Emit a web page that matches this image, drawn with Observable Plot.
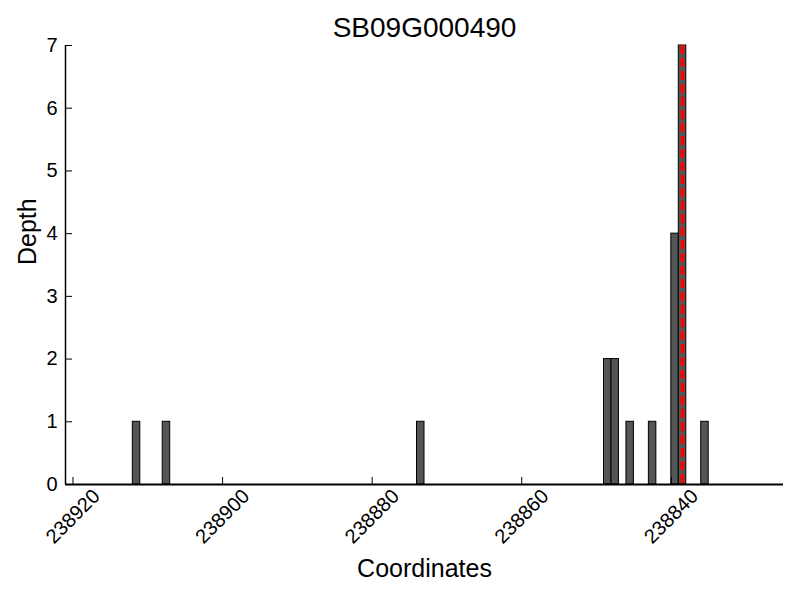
<!DOCTYPE html>
<html>
<head>
<meta charset="utf-8">
<script src="https://cdn.jsdelivr.net/npm/d3@7"></script>
<script src="https://cdn.jsdelivr.net/npm/@observablehq/plot@0.6"></script>
<style>
  html, body { margin: 0; padding: 0; background: #fff; }
  #chart svg { display: block; }
</style>
</head>
<body>
<div id="chart"></div>
<script>
const title = "SB09G000490";
const xLabel = "Coordinates";
const yLabel = "Depth";

// bar start coordinates (each bar spans one base) and read-off depths
const positions = [238911, 238907, 238873, 238848, 238847, 238845, 238842, 238839, 238838, 238835];
const depths    = [1, 1, 1, 2, 2, 1, 1, 4, 7, 1];

// marker (red dashed line) position
const markerPos = [238838.5];

const xDomain = [238921, 238825];
const yDomain = [0, 7];
const xTicks = [238920, 238900, 238880, 238860, 238840];
const yTicks = [0, 1, 2, 3, 4, 5, 6, 7];

const bars = positions.map((p, i) => ({pos: p, depth: depths[i]}));

const font = "'Liberation Sans', Arial, Helvetica, sans-serif";

const chart = Plot.plot({
  width: 800,
  height: 600,
  marginLeft: 65,
  marginRight: 17,
  marginTop: 45,
  marginBottom: 116,
  style: {fontFamily: font, fontSize: "20px", color: "black", background: "white"},
  x: {domain: xDomain, label: null},
  y: {domain: yDomain, label: null},
  marks: [
    Plot.rectY(bars, {x1: d => d.pos, x2: d => d.pos + 1, y: "depth", fill: "#555555", stroke: "black", strokeWidth: 1}),
    Plot.ruleX(markerPos, {stroke: "#ff0000", strokeWidth: 3.5, strokeDasharray: "9,4"}),
    Plot.ruleY([yDomain[0]], {stroke: "black", strokeWidth: 1.8}),
    Plot.ruleX([xDomain[0]], {stroke: "black", strokeWidth: 1.5}),
    Plot.axisY({ticks: yTicks, tickSize: -7, tickPadding: 15, tickFormat: "d", fontSize: 20, label: null}),
    Plot.axisX({ticks: xTicks, tickSize: -7, tickFormat: () => "", label: null}),
    Plot.text(xTicks, {x: d => d, frameAnchor: "bottom", dy: 32, rotate: -45, textAnchor: "middle", lineAnchor: "middle", text: d => String(d), fontSize: 20, fill: "black"}),
    Plot.text([xLabel], {frameAnchor: "bottom", dy: 84, lineAnchor: "middle", fontSize: 25, fill: "black"}),
    Plot.text([yLabel], {frameAnchor: "left", dx: -38, rotate: -90, lineAnchor: "middle", fontSize: 25, fill: "black"}),
    Plot.text([title], {frameAnchor: "top", dy: -17, lineAnchor: "middle", fontSize: 28, fill: "black"})
  ]
});

document.getElementById("chart").appendChild(chart);
</script>
</body>
</html>
